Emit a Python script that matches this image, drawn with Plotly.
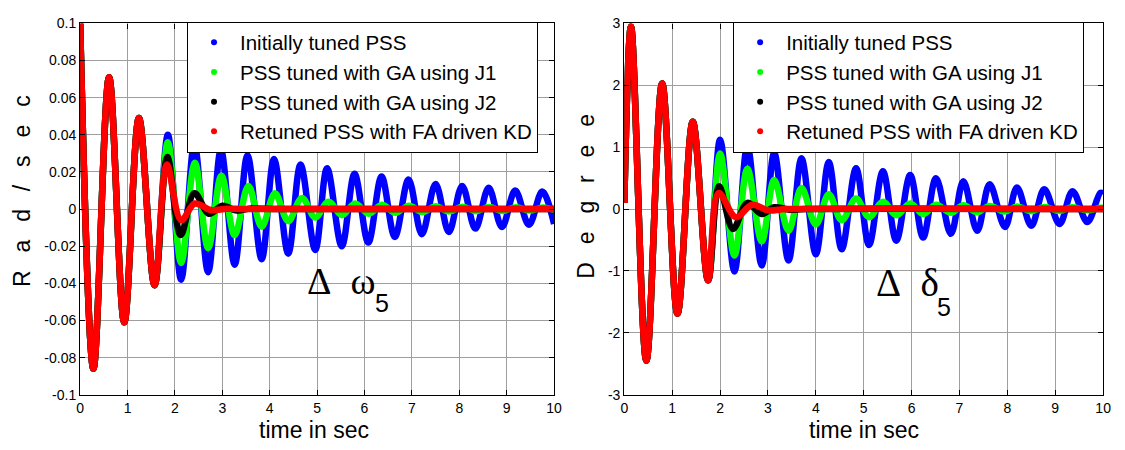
import plotly.graph_objects as go

# ---------------- data ----------------
# Left panel: speed deviation (Rad/sec). Common response before the curves separate.
T_EARLY_W = [0.0, 0.28, 0.61, 0.93, 1.24, 1.57]
W_EARLY = [0.100, -0.086, 0.071, -0.061, 0.049, -0.041]

T_BLUE_W = [1.85, 2.13, 2.41, 2.70, 2.97, 3.26, 3.53, 3.83, 4.09, 4.39, 4.65, 4.96, 5.21,
            5.52, 5.79, 6.08, 6.36, 6.64, 6.93, 7.21, 7.50, 7.78, 8.06, 8.34, 8.62, 8.90,
            9.18, 9.47, 9.75, 10.0]
W_BLUE = [0.040, -0.038, 0.035, -0.034, 0.032, -0.030, 0.029, -0.027, 0.027, -0.024, 0.024,
          -0.022, 0.022, -0.020, 0.019, -0.018, 0.0175, -0.015, 0.016, -0.0135, 0.0135,
          -0.0123, 0.0125, -0.0105, 0.0115, -0.0097, 0.010, -0.0085, 0.0095, -0.008]

T_GREEN_W = [1.85, 2.13, 2.42, 2.70, 2.98, 3.26, 3.55, 3.83, 4.11, 4.39, 4.68, 4.96, 5.24,
             5.52, 5.80, 6.09, 6.37, 6.65, 6.94, 7.22, 7.50, 7.78, 8.07, 8.35, 8.63, 8.91,
             9.20, 9.48, 9.76, 10.0]
W_GREEN = [0.036, -0.029, 0.025, -0.021, 0.018, -0.014, 0.0125, -0.0095, 0.0085, -0.0065,
           0.006, -0.0045, 0.004, -0.0033, 0.003, -0.0025, 0.0023, -0.002, 0.0018, -0.0016,
           0.0015, -0.0013, 0.0013, -0.0011, 0.0011, -0.001, 0.001, -0.0008, 0.0008, -0.0005]

T_BLACK_W = [1.84, 2.12, 2.41, 2.72, 3.00, 3.30, 3.60, 4.20, 10.0]
W_BLACK = [0.028, -0.014, 0.0085, -0.0025, 0.0018, -0.0008, 0.0003, 0.0, 0.0]

T_RED_W = [1.83, 2.13, 2.42, 2.75, 3.10, 3.50, 10.0]
W_RED = [0.024, -0.006, 0.003, -0.0005, 0.0002, 0.0, 0.0]

# Right panel: angle deviation (Degree).
T_EARLY_D = [0.0, 0.14, 0.46, 0.79, 1.11, 1.43, 1.75]
D_EARLY = [0.10, 2.95, -2.45, 2.03, -1.69, 1.41, -1.15]

T_BLUE_D = [2.00, 2.30, 2.57, 2.87, 3.13, 3.43, 3.70, 4.00, 4.27, 4.54, 4.84, 5.11, 5.40,
            5.68, 5.97, 6.24, 6.51, 6.82, 7.08, 7.37, 7.63, 7.95, 8.20, 8.50, 8.77, 9.09,
            9.36, 9.67, 9.94, 10.0]
D_BLUE = [1.12, -1.01, 1.02, -0.91, 0.91, -0.83, 0.82, -0.73, 0.76, -0.65, 0.66, -0.58,
          0.61, -0.51, 0.55, -0.46, 0.50, -0.40, 0.45, -0.35, 0.40, -0.29, 0.35, -0.27,
          0.32, -0.24, 0.29, -0.21, 0.26, 0.25]

T_GREEN_D = [2.00, 2.30, 2.57, 2.87, 3.13, 3.43, 3.70, 4.00, 4.27, 4.54, 4.84, 5.11, 5.40,
             5.68, 5.97, 6.24, 6.51, 6.82, 7.08, 7.37, 7.63, 7.95, 8.20, 8.50, 8.77, 9.09,
             9.36, 9.67, 9.94, 10.0]
D_GREEN = [0.90, -0.75, 0.65, -0.52, 0.47, -0.35, 0.34, -0.25, 0.24, -0.18, 0.17, -0.13,
           0.12, -0.10, 0.09, -0.08, 0.07, -0.06, 0.06, -0.05, 0.05, -0.04, 0.04, -0.035,
           0.035, -0.03, 0.03, -0.02, 0.02, 0.02]

T_BLACK_D = [1.98, 2.27, 2.57, 2.87, 3.13, 3.45, 3.80, 10.0]
D_BLACK = [0.37, -0.32, 0.10, -0.08, 0.03, -0.01, 0.0, 0.0]

T_RED_D = [1.97, 2.33, 2.67, 3.00, 3.40, 10.0]
D_RED = [0.26, -0.13, 0.07, -0.02, 0.0, 0.0]

SERIES_NAMES = ["Initially tuned PSS", "PSS tuned with GA using J1",
                "PSS tuned with GA using J2", "Retuned PSS with FA driven KD"]
SERIES_COLORS = ["#0000ff", "#00ff00", "#000000", "#ff0000"]

X_TICKS = [0, 1, 2, 3, 4, 5, 6, 7, 8, 9, 10]
W_TICKS = [0.1, 0.08, 0.06, 0.04, 0.02, 0, -0.02, -0.04, -0.06, -0.08, -0.1]
W_TICK_TEXT = ["0.1", "0.08", "0.06", "0.04", "0.02", "0", "-0.02", "-0.04", "-0.06", "-0.08", "-0.1"]
D_TICKS = [3, 2, 1, 0, -1, -2, -3]
D_TICK_TEXT = ["3", "2", "1", "0", "-1", "-2", "-3"]

# ---------------- figure ----------------
W, H = 1125, 450
SANS = "Liberation Sans, Arial, sans-serif"
SERIF = "Liberation Serif, Times New Roman, serif"
LW = 6.5

fig = go.Figure()

left_t = [T_BLUE_W, T_GREEN_W, T_BLACK_W, T_RED_W]
left_v = [W_BLUE, W_GREEN, W_BLACK, W_RED]
right_t = [T_BLUE_D, T_GREEN_D, T_BLACK_D, T_RED_D]
right_v = [D_BLUE, D_GREEN, D_BLACK, D_RED]

panels = [("x", "y", T_EARLY_W, W_EARLY, left_t, left_v),
          ("x2", "y2", T_EARLY_D, D_EARLY, right_t, right_v)]

for xa, ya, te, ve, ts, vs in panels:
    for i in range(4):
        fig.add_trace(go.Scatter(
            x=te + ts[i], y=ve + vs[i], mode="lines",
            line=dict(color=SERIES_COLORS[i], width=LW, shape="spline", smoothing=1.0),
            xaxis=xa, yaxis=ya, showlegend=False, name=SERIES_NAMES[i]))

# legend entries (dot markers like the original)
for i in range(4):
    fig.add_trace(go.Scatter(x=[None], y=[None], mode="markers", name=SERIES_NAMES[i],
                             marker=dict(color=SERIES_COLORS[i], size=6),
                             xaxis="x", yaxis="y", legend="legend"))
    fig.add_trace(go.Scatter(x=[None], y=[None], mode="markers", name=SERIES_NAMES[i],
                             marker=dict(color=SERIES_COLORS[i], size=6),
                             xaxis="x2", yaxis="y2", legend="legend2"))

def px_x(p):
    return p / W

def px_y(p):
    return 1 - p / H

ydom = [px_y(401), px_y(16)]
axis_common = dict(showline=True, linecolor="black", linewidth=1.3, mirror="ticks",
                   ticks="inside", ticklen=5, tickcolor="black", tickwidth=1,
                   showgrid=True, gridcolor="#9e9e9e", gridwidth=1, zeroline=False,
                   tickfont=dict(family=SANS, size=14, color="black"))

legend_common = dict(xanchor="left", yanchor="top", bgcolor="white", bordercolor="black",
                     borderwidth=1, itemwidth=42,
                     font=dict(family=SANS, size=20.5, color="black"))

fig.update_layout(
    width=W, height=H,
    margin=dict(l=0, r=0, t=0, b=0),
    paper_bgcolor="white", plot_bgcolor="white",
    xaxis=dict(domain=[px_x(77), px_x(556)], range=[0, 10], tickvals=X_TICKS,
               anchor="y", **axis_common),
    yaxis=dict(domain=ydom, range=[-0.1, 0.1], tickvals=W_TICKS, ticktext=W_TICK_TEXT,
               anchor="x", **axis_common),
    xaxis2=dict(domain=[px_x(627), px_x(1111)], range=[0, 10], tickvals=X_TICKS,
                anchor="y2", **axis_common),
    yaxis2=dict(domain=ydom, range=[-3, 3], tickvals=D_TICKS, ticktext=D_TICK_TEXT,
                anchor="x2", **axis_common),
    legend=dict(x=px_x(185), y=px_y(14), **legend_common),
    legend2=dict(x=px_x(737), y=px_y(14), **legend_common),
)

SP = "\u2002 "
annots = [
    # axis titles
    dict(text="time in sec", x=px_x(313), y=px_y(438), font=dict(family=SANS, size=23)),
    dict(text="time in sec", x=px_x(869), y=px_y(438), font=dict(family=SANS, size=23)),
    dict(text=SP.join("Rad/sec"), x=px_x(18), y=px_y(190), textangle=-90,
         font=dict(family=SANS, size=23)),
    dict(text=SP.join("Degree"), x=px_x(588), y=px_y(195), textangle=-90,
         font=dict(family=SANS, size=23)),
    # panel labels
    dict(text="\u0394\u2002\u03c9", x=px_x(341), y=px_y(283), font=dict(family=SERIF, size=38)),
    dict(text="5", x=px_x(382), y=px_y(306), font=dict(family=SANS, size=25)),
    dict(text="\u0394\u2002\u03b4", x=px_x(913), y=px_y(285), font=dict(family=SERIF, size=39)),
    dict(text="5", x=px_x(950), y=px_y(310), font=dict(family=SANS, size=25)),
]
for a in annots:
    a.setdefault("xref", "paper")
    a.setdefault("yref", "paper")
    a.setdefault("showarrow", False)
    a.setdefault("xanchor", "center")
    a.setdefault("yanchor", "middle")
    a["font"]["color"] = "black"
    fig.add_annotation(**a)

fig.write_html("out.html")
